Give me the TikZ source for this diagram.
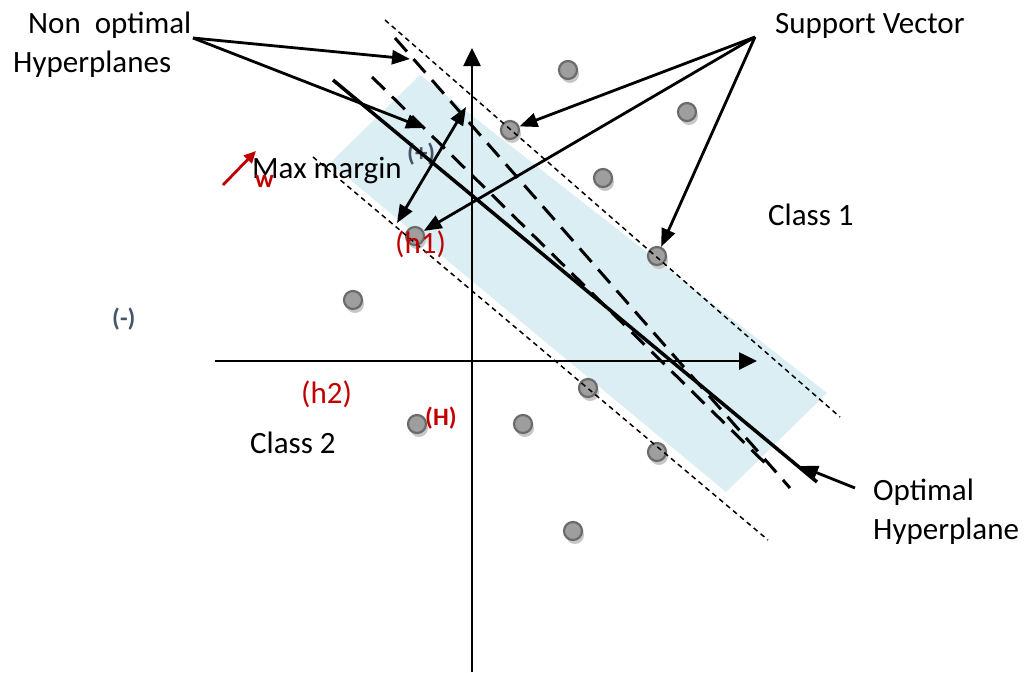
\documentclass[tikz,border=0pt]{standalone}
\usepackage{fontspec}
\setmainfont{Carlito}
\usetikzlibrary{arrows.meta,shadows}
\definecolor{bandblue}{HTML}{DAEEF3}
\definecolor{darkred}{HTML}{C00000}
\definecolor{slate}{HTML}{44546A}

\begin{document}
\begin{tikzpicture}[
    x=1pt, y=-1pt,
    every node/.style={font=\fontsize{31}{39}\selectfont, inner sep=0pt, anchor=base west},
    point/.style={circle, draw=black!58, line width=2.2pt, fill=black!38, minimum size=18pt, anchor=center,
        drop shadow={shadow xshift=2pt, shadow yshift=-4pt, fill=black!22, opacity=1}},
    sign/.style={font=\fontsize{25}{30}\selectfont\bfseries, text=slate},
    hlabel/.style={text=darkred},
    pointer/.style={line width=2.8pt, -{Triangle[length=18pt, width=14pt]}},
    axis/.style={line width=2.6pt, -{Triangle[length=18pt, width=17pt]}},
    margin line/.style={line width=1.5pt, dash pattern=on 5pt off 4pt},
    nonopt/.style={line width=3pt, dash pattern=on 18pt off 10pt},
    optimal/.style={line width=3.5pt}
]
% Iperpiano ottimo di una SVM: fascia di margine massimo tra le due classi.
\useasboundingbox (0,0) rectangle (1024,672);
\fill[bandblue] (420,75) -- (827,393) -- (726,492) -- (330,163) -- cycle;

% punti del training set
\node[point] (p1) at (568,70) {};
\node[point] (p2) at (687,112) {};
\node[point] (p3) at (510,130) {};
\node[point] (p4) at (603,178) {};
\node[point] (p5) at (657,256) {};
\node[point] (p6) at (415,236) {};
\node[point] (p7) at (353,300) {};
\node[point] (p8) at (588,388) {};
\node[point] (p9) at (417,424) {};
\node[point] (p10) at (523,424) {};
\node[point] (p11) at (657,452) {};
\node[point] (p12) at (573,531) {};

\coordinate (u1) at (385,20);
\coordinate (u2) at (840,417);
\coordinate (l1) at (313,157);
\coordinate (l2) at (768,540);
\draw[margin line] (u1) -- (u2);
\draw[margin line] (l1) -- (l2);

\node (nonoptimal) at (13,72) [align=left] {\hspace*{15pt}Non~ optimal\\Hyperplanes};
\node (support) at (775,33) {Support Vector};
\node (class1) at (768,225) {Class 1};
\node (class2) at (250,453) {Class 2};
\node (optimaltxt) at (873,539) [align=left] {Optimal\\Hyperplane};
\node (maxmargin) at (252,178) {Max margin};
\node[sign] (plus) at (407,161) {(+)};
\node[sign] (minus) at (112,326) {(-)};
\node[hlabel] (hone) at (395,253) {(h1)};
\node[hlabel] (htwo) at (301,403) {(h2)};
\node[sign, text=darkred] (bigH) at (425,425) {(H)};
\node[hlabel, font=\fontsize{25}{30}\selectfont\bfseries] (wlabel) at (255,187) {w};

% iperpiani
\coordinate (a1) at (372,77);
\coordinate (a2) at (768,466);
\coordinate (b1) at (395,38);
\coordinate (b2) at (790,488);
\coordinate (o1) at (333,80);
\coordinate (o2) at (817,482);
\draw[nonopt] (a1) -- (a2);
\draw[nonopt] (b1) -- (b2);
\draw[optimal] (o1) -- (o2);

% assi
\coordinate (xs) at (215,361);
\coordinate (xe) at (757,361);
\coordinate (ys) at (472,672);
\coordinate (ye) at (472,48);
\draw[axis] (xs) -- (xe);
\draw[axis] (ys) -- (ye);

% frecce delle etichette
\coordinate (np) at (193,38);
\coordinate (na) at (410,59);
\coordinate (nb) at (424,128);
\draw[pointer] (np) -- (na);
\draw[pointer] (np) -- (nb);
\coordinate (sv) at (755,37);
\draw[pointer] (sv) -- (p3);
\draw[pointer] (sv) -- (p6);
\draw[pointer] (sv) -- (p5);
\coordinate (mm1) at (397,223);
\coordinate (mm2) at (466,107);
\draw[pointer, {Triangle[length=18pt, width=14pt]}-{Triangle[length=18pt, width=14pt]}] (mm1) -- (mm2);
\coordinate (oh) at (855,488);
\coordinate (op) at (800,466);
\draw[pointer] (oh) -- (op);
\coordinate (w1) at (223,185);
\coordinate (w2) at (256,151);
\draw[pointer, darkred, -{Triangle[length=12pt, width=11pt]}] (w1) -- (w2);
\end{tikzpicture}
\end{document}
